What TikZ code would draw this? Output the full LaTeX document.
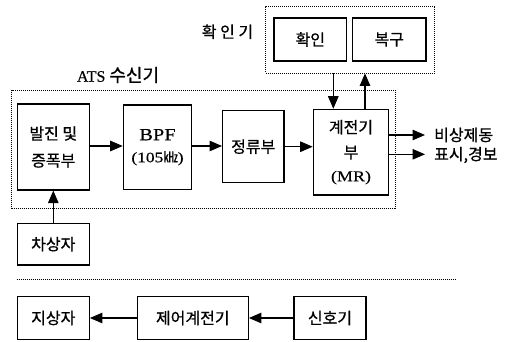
\documentclass[tikz,border=0pt]{standalone}
\usepackage{fontspec}
\setmainfont{Liberation Serif}[FakeBold=0.4]
\newfontfamily\kr{Noto Sans CJK KR}[FakeBold=0.8]
\newfontfamily\wser{Liberation Serif}[FakeStretch=1.2,FakeBold=0.4]
\usetikzlibrary{arrows.meta}
\tikzset{
  blk/.style={draw, line width=1.2pt, inner sep=0pt, align=center,
    font=\kr\fontsize{16}{19}\selectfont},
  grp/.style={draw, line width=0.8pt, dash pattern=on 1pt off 1pt, inner sep=0pt},
  arr/.style={-{Triangle[length=12.5pt,width=10.5pt]}, line width=1.1pt},
  lbl/.style={inner sep=0pt, font=\kr\fontsize{16}{19}\selectfont},
}
\begin{document}
\begin{tikzpicture}[x=1pt,y=-1pt]
\useasboundingbox (0,0) rectangle (514,342);
% confirm group
\node[grp, minimum width=169pt, minimum height=67pt] (cgrp) at (350.3,39.5) {};
\node[blk, minimum width=72.7pt, minimum height=43pt] (hwak) at (310.3,39.5) {확인};
\node[blk, minimum width=73.3pt, minimum height=43pt] (bokgu) at (389.3,39.5) {복구};
\node[lbl] (hwakgi) at (227.5,31.7) {확 인 기};
% ATS group
\node[grp, minimum width=384pt, minimum height=118.5pt] (ats) at (203.7,149.3) {};
\node[inner sep=0pt] (atslbl) at (118,75) {\fontsize{16}{18}\selectfont ATS {\kr\fontsize{18}{18}\selectfont 수신기}};
\node[blk, minimum width=72pt, minimum height=86pt] (osc) at (53.3,147) {발진 및\\[8pt]증폭부};
\node[blk, minimum width=68.4pt, minimum height=84.3pt] (bpf) at (157.5,147.2)
  {{\wser\fontsize{17}{18}\selectfont BPF}\\[3pt]{\wser\fontsize{14.5}{16}\selectfont (105{\kr ㎑})}};
\node[blk, minimum width=61.3pt, minimum height=72pt] (rect) at (253.3,146.7) {정류부};
\node[blk, minimum width=75.4pt, minimum height=85.7pt] (mr) at (351,152.2)
  {계전기\\[6pt]부\\[4pt]{\wser\fontsize{15}{18}\selectfont (MR)}};
\node[blk, minimum width=72pt, minimum height=41.7pt] (chasang) at (53.3,244.2) {차상자};
% output labels
\node[lbl, anchor=west] (o1lbl) at (434,135) {비상제동};
\node[lbl, anchor=west] (o2lbl) at (434,155) {표시,경보};
\coordinate (o1) at (425,135);
\coordinate (o2) at (425,154.3);
% separator
\coordinate (s1) at (16.7,279.3);
\coordinate (s2) at (456.7,279.3);
\draw[line width=0.8pt, dash pattern=on 1pt off 1pt] (s1) -- (s2);
% bottom row
\node[blk, minimum width=72pt, minimum height=42.6pt] (jisang) at (53.3,318) {지상자};
\node[blk, minimum width=111pt, minimum height=42.6pt] (jeeo) at (192.8,318) {제어계전기};
\node[blk, minimum width=72pt, minimum height=42.6pt] (sinho) at (330,318) {신호기};
% connectors
\draw[arr] (osc.east |- 0,146) -- (bpf.west |- 0,146);
\draw[arr] (bpf.east |- 0,146) -- (rect.west |- 0,146);
\draw[arr] (rect.east) -- (rect.east -| mr.west);
\draw[arr] (chasang.north) -- (osc.south);
\coordinate (dx) at (333.3,0);
\coordinate (ux) at (365,0);
\draw[arr] (cgrp.south -| dx) -- (mr.north -| dx);
\draw[arr] (mr.north -| ux) -- (cgrp.south -| ux);
\draw[arr] (mr.east |- o1) -- (o1);
\draw[arr] (mr.east |- o2) -- (o2);
\draw[arr] (jeeo.west) -- (jisang.east);
\draw[arr] (sinho.west) -- (jeeo.east);
\end{tikzpicture}
\end{document}
